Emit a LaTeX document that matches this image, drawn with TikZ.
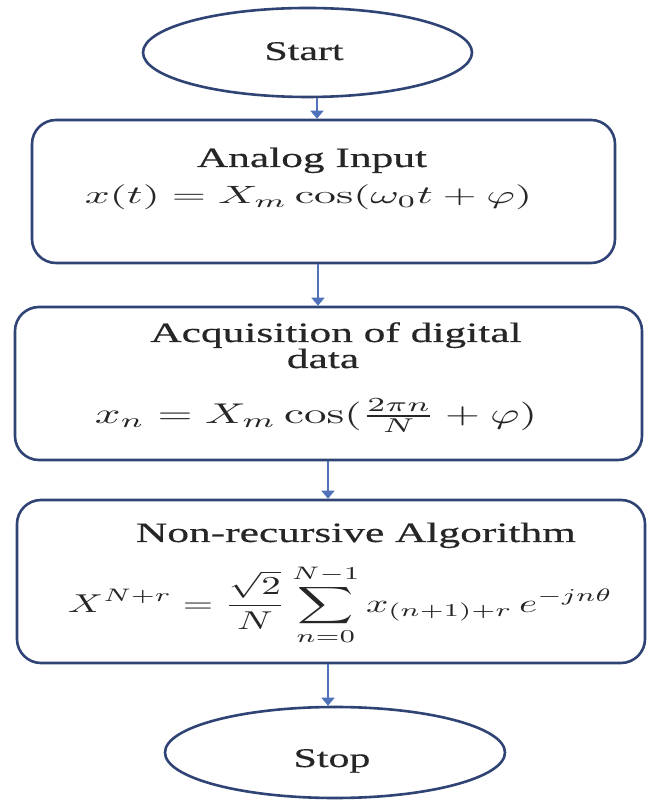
\RequirePackage{fix-cm}
\documentclass[tikz,border=0pt]{standalone}
\usepackage{amsmath}
\usepackage{graphicx}
\usepackage[no-math]{fontspec}
\setmainfont{Liberation Serif}
\newfontfamily\widefont{Liberation Serif}[FakeStretch=1.55,FakeBold=0.5]
\usetikzlibrary{shapes.geometric,arrows.meta}
\definecolor{edge}{HTML}{2F4374}
\definecolor{arrowc}{HTML}{4F72BA}
\definecolor{inkc}{HTML}{262626}
\tikzset{
  term/.style={ellipse, draw=edge, line width=2.6pt, inner sep=0pt},
  procbox/.style={rectangle, rounded corners=24pt, draw=edge, line width=2.6pt, inner sep=0pt},
  lbl/.style={font=\widefont\fontsize{28}{30}\selectfont, text=inkc, inner sep=0pt, anchor=base},
  mth/.style={text=inkc, inner sep=0pt},
  arr/.style={draw=arrowc, line width=1.8pt, -{Triangle[length=8pt,width=13pt]}}
}
\begin{document}
\begin{tikzpicture}[x=1pt,y=1pt]
\useasboundingbox (0,0) rectangle (651,800);
\fill[white] (0,0) rectangle (651,800);
% shapes
\node[term, minimum width=329pt, minimum height=89pt] (start) at (307.5,747.5) {};
\node[procbox, minimum width=583pt, minimum height=143pt] (b1) at (323.5,608.5) {};
\node[procbox, minimum width=627pt, minimum height=153pt] (b2) at (328.5,416.5) {};
\node[procbox, minimum width=628pt, minimum height=163pt] (b3) at (331,218.5) {};
\node[term, minimum width=340pt, minimum height=91pt] (stop) at (335,47.5) {};
% texts
\node[lbl, font=\widefont\fontsize{27}{30}\selectfont] (tstart) at (304,740) {Start};
\node[lbl] (t1a) at (312,633) {Analog Input};
\node[mth] (t1b) at (308.5,602.5) {\resizebox*{447pt}{25pt}{$x(t) = X_m \cos(\omega_0 t + \varphi)$}};
\node[lbl] (t2a) at (336,458) {Acquisition of digital};
\node[lbl] (t2b) at (323,432) {data};
\node[mth] (t2c) at (316,384) {\resizebox*{442pt}{34pt}{$x_n = X_m \cos(\tfrac{2\pi n}{N} + \varphi)$}};
\node[lbl] (t3a) at (356,258) {Non-recursive Algorithm};
\node[mth] (t3b) at (340.5,195) {\resizebox*{545pt}{80pt}{$\displaystyle X^{N+r} = \frac{\sqrt{2}}{N}\sum_{n=0}^{N-1} x_{(n+1)+r}\, e^{-jn\theta}$}};
\node[lbl, font=\widefont\fontsize{27}{30}\selectfont] (tstop) at (332,33) {Stop};
% arrows
\coordinate (c1) at (317,0);
\coordinate (c2) at (318,0);
\coordinate (c3) at (328,0);
\coordinate (c4) at (328,0);
\draw[arr] (start.south -| c1) -- (b1.north -| c1);
\draw[arr] (b1.south -| c2) -- (b2.north -| c2);
\draw[arr] (b2.south -| c3) -- (b3.north -| c3);
\draw[arr] (b3.south -| c4) -- (stop.north -| c4);
\end{tikzpicture}
\end{document}
